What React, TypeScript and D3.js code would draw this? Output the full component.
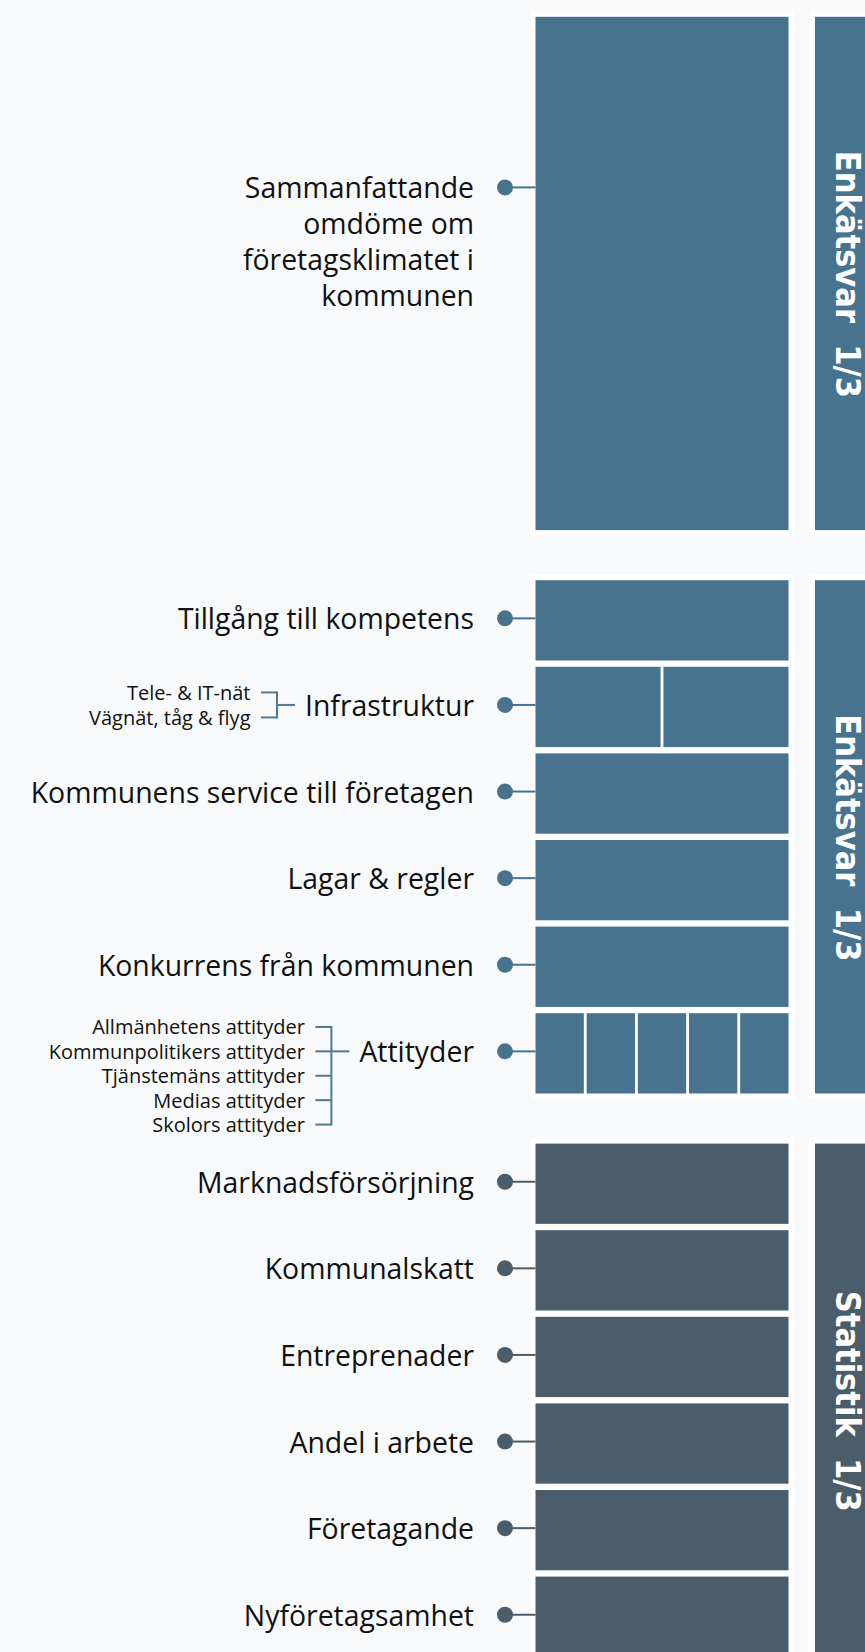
import React, { useEffect, useRef } from 'react';
import * as d3 from 'd3';

const W = 865;
const H = 1652;

// ---- data ----
const sectionTitles = ['Enkätsvar  1/3', 'Enkätsvar  1/3', 'Statistik  1/3'];
const sectionColors = ['#47738f', '#47738f', '#4b5c6a'];
const slotsPerSection = 6;

const summaryLines = ['Sammanfattande', 'omdöme om', 'företagsklimatet i', 'kommunen'];
const surveyRows = [
  'Tillgång till kompetens',
  'Infrastruktur',
  'Kommunens service till företagen',
  'Lagar & regler',
  'Konkurrens från kommunen',
  'Attityder',
];
const statRows = [
  'Marknadsförsörjning',
  'Kommunalskatt',
  'Entreprenader',
  'Andel i arbete',
  'Företagande',
  'Nyföretagsamhet',
];
const infraParts = ['Tele- & IT-nät', 'Vägnät, tåg & flyg'];
const attitudeParts = [
  'Allmänhetens attityder',
  'Kommunpolitikers attityder',
  'Tjänstemäns attityder',
  'Medias attityder',
  'Skolors attityder',
];
const subParts: Record<string, string[]> = {
  Infrastruktur: infraParts,
  Attityder: attitudeParts,
};
const bracketAnchor: Record<string, number> = { Infrastruktur: 0.5, Attityder: 1 };
const bracketPitch: Record<string, number> = { Infrastruktur: 25, Attityder: 24.4 };

const FONT = "'Open Sans', 'Noto Sans', sans-serif";

export default function App() {
  const ref = useRef<SVGSVGElement | null>(null);

  useEffect(() => {
    const svg = d3.select(ref.current);
    svg.selectAll('*').remove();

    svg.append('rect').attr('width', W).attr('height', H).attr('fill', '#f8f9fb');

    const sectionTop = d3.scaleLinear().domain([0, 1]).range([16.8, 16.8 + 563.4]);
    const pitch = 86.6;
    const gap = 6.3;
    const secHeight = pitch * slotsPerSection - gap;
    const slot = (s: number) =>
      d3
        .scaleBand<number>()
        .domain(d3.range(slotsPerSection))
        .range([sectionTop(s), sectionTop(s) + secHeight])
        .paddingInner(gap / pitch)
        .paddingOuter(0);

    const x0 = 535.5;
    const x1 = 788.5;
    const colX = d3.scaleLinear().domain([0, 1]).range([x0, x1]);
    const pad = 5.5;
    const rightX = 815;
    const labelRight = 474;
    const dotX = 505;

    const g = svg.append('g');

    const drawDot = (y: number, color: string) => {
      g.append('line')
        .attr('x1', dotX)
        .attr('x2', x0)
        .attr('y1', y)
        .attr('y2', y)
        .attr('stroke', color)
        .attr('stroke-width', 2);
      g.append('circle').attr('cx', dotX).attr('cy', y).attr('r', 8).attr('fill', color);
    };

    const mainLabel = (text: string, y: number) =>
      g
        .append('text')
        .attr('x', labelRight)
        .attr('y', y)
        .attr('text-anchor', 'end')
        .attr('dominant-baseline', 'central')
        .attr('font-family', FONT)
        .attr('font-size', 28.4)
        .attr('fill', '#111')
        .text(text);

    for (let s = 0; s < 3; s++) {
      const top = sectionTop(s);
      const color = sectionColors[s];
      g.append('rect')
        .attr('x', x0 - pad)
        .attr('y', top - pad)
        .attr('width', x1 - x0 + 2 * pad)
        .attr('height', secHeight + 2 * pad)
        .attr('fill', '#fff');
      g.append('rect')
        .attr('x', rightX - pad)
        .attr('y', top - pad)
        .attr('width', 100)
        .attr('height', secHeight + 2 * pad)
        .attr('fill', '#fff');
      g.append('rect')
        .attr('x', rightX)
        .attr('y', top)
        .attr('width', 100)
        .attr('height', secHeight)
        .attr('fill', color);
      g.append('text')
        .attr('transform', `translate(836,${top + secHeight / 2 + 1}) rotate(90)`)
        .attr('text-anchor', 'middle')
        .attr('font-family', "'DejaVu Sans Condensed', 'DejaVu Sans', sans-serif")
        .attr('font-stretch', 'condensed')
        .attr('font-weight', 'bold')
        .attr('font-size', 34)
        .attr('fill', '#fff')
        .style('white-space', 'pre')
        .text(sectionTitles[s]);
    }

    // Section 1: one big cell
    {
      const sc = slot(0);
      const top = sc(0)!;
      const bottom = sc(slotsPerSection - 1)! + sc.bandwidth();
      g.append('rect')
        .attr('x', x0)
        .attr('y', top)
        .attr('width', x1 - x0)
        .attr('height', bottom - top)
        .attr('fill', sectionColors[0]);
      const dy = sc(2)! - 2.6;
      drawDot(dy, sectionColors[0]);
      summaryLines.forEach((l, i) => mainLabel(l, dy + i * 35.8));
    }

    const drawRows = (rows: string[], s: number) => {
      const sc = slot(s);
      const color = sectionColors[s];
      rows.forEach((name, i) => {
        const y = sc(i)!;
        const parts = subParts[name] ?? [name];
        const xb = d3
          .scaleBand<number>()
          .domain(d3.range(parts.length))
          .range([colX(0), colX(1)])
          .paddingInner(parts.length > 1 ? 2.8 / (253 / parts.length) : 0);
        parts.forEach((_, j) => {
          g.append('rect')
            .attr('x', xb(j)!)
            .attr('y', y)
            .attr('width', xb.bandwidth())
            .attr('height', sc.bandwidth())
            .attr('fill', color);
        });
        const cy = y + sc.bandwidth() / 2 - 2;
        drawDot(cy, color);
        const t = mainLabel(name, cy);
        if (subParts[name]) {
          const w = (t.node() as SVGTextElement).getComputedTextLength();
          const connEnd = labelRight - w - 10;
          const vx = connEnd - 18;
          const tickStart = vx - 16;
          const textRight = tickStart - 10.5;
          const items = subParts[name];
          const p = bracketPitch[name];
          const first = cy - bracketAnchor[name] * p;
          const ip = d3.scaleLinear().domain([0, 1]).range([first, first + p]);
          const bc = '#4f7894';
          g.append('line')
            .attr('x1', vx)
            .attr('x2', connEnd)
            .attr('y1', cy)
            .attr('y2', cy)
            .attr('stroke', bc)
            .attr('stroke-width', 2);
          g.append('line')
            .attr('x1', vx)
            .attr('x2', vx)
            .attr('y1', ip(0) - 1)
            .attr('y2', ip(items.length - 1) + 1)
            .attr('stroke', bc)
            .attr('stroke-width', 2);
          items.forEach((it, k) => {
            g.append('line')
              .attr('x1', tickStart)
              .attr('x2', vx)
              .attr('y1', ip(k))
              .attr('y2', ip(k))
              .attr('stroke', bc)
              .attr('stroke-width', 2);
            g.append('text')
              .attr('x', textRight)
              .attr('y', ip(k))
              .attr('text-anchor', 'end')
              .attr('dominant-baseline', 'central')
              .attr('font-family', FONT)
              .attr('font-size', 20)
              .attr('fill', '#111')
              .text(it);
          });
        }
      });
    };

    drawRows(surveyRows, 1);
    drawRows(statRows, 2);
  }, []);

  return (
    <div style={{ position: 'absolute', left: 0, top: 0 }}>
      <svg ref={ref} width={W} height={H} style={{ display: 'block' }} />
    </div>
  );
}
